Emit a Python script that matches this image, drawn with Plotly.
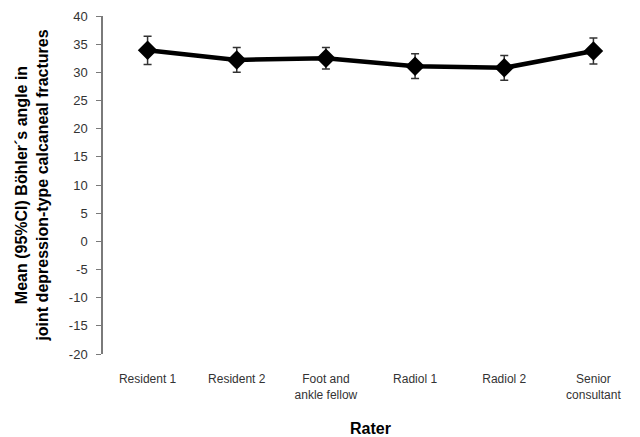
import plotly.graph_objects as go

raters = ["Resident 1", "Resident 2", "Foot and<br>ankle fellow", "Radiol 1", "Radiol 2", "Senior<br>consultant"]
mean_angle = [33.9, 32.2, 32.5, 31.1, 30.8, 33.8]
ci_half = [2.5, 2.2, 1.9, 2.2, 2.2, 2.3]
y_ticks = list(range(-20, 45, 5))
y_tick_text = ["%d" % v for v in y_ticks]

pos = list(range(len(raters)))
boundaries = [p + 0.5 for p in pos]

fig = go.Figure()
fig.add_trace(go.Scatter(
    x=pos, y=mean_angle,
    mode="lines+markers",
    line=dict(color="black", width=4.5),
    marker=dict(symbol="diamond", size=15, color="black"),
    error_y=dict(type="data", array=ci_half, visible=True,
                 color="#333333", thickness=1.5, width=4),
    showlegend=False,
))

axis_gray = "#7a7a7a"
fig.update_layout(
    width=640, height=437,
    margin=dict(l=103, r=2, t=16, b=78),
    plot_bgcolor="white", paper_bgcolor="white",
    font=dict(family="Liberation Sans, Arial, sans-serif", color="black"),
    xaxis=dict(
        range=[-0.5, len(raters) - 0.5],
        tickmode="array", tickvals=pos, ticktext=raters,
        ticks="", showline=False, showgrid=False, zeroline=False,
        tickfont=dict(size=12, color="#333333"),
        ticklabelstandoff=16,
        title=dict(text="<b>Rater</b>", font=dict(size=16), standoff=22),
    ),
    xaxis2=dict(
        overlaying="x", anchor="free", position=1/3, side="bottom",
        range=[-0.5, len(raters) - 0.5],
        tickmode="array", tickvals=boundaries, showticklabels=False,
        ticks="outside", ticklen=6, tickcolor=axis_gray, tickwidth=1,
        showline=True, linecolor=axis_gray, linewidth=1.5,
        showgrid=False, zeroline=False,
    ),
    yaxis=dict(
        range=[-20, 40], tickmode="array", tickvals=y_ticks, ticktext=y_tick_text,
        showline=True, linecolor=axis_gray, linewidth=1.5,
        ticks="outside", ticklen=5, tickcolor=axis_gray,
        showgrid=False, zeroline=False,
        tickfont=dict(size=13, color="#333333"),
        ticklabelstandoff=6,
        title=dict(text="<b>Mean (95%CI) Böhler´s angle in<br>joint depression-type calcaneal fractures</b>",
                   font=dict(size=16), standoff=16),
    ),
)

fig.write_html("out.html")
